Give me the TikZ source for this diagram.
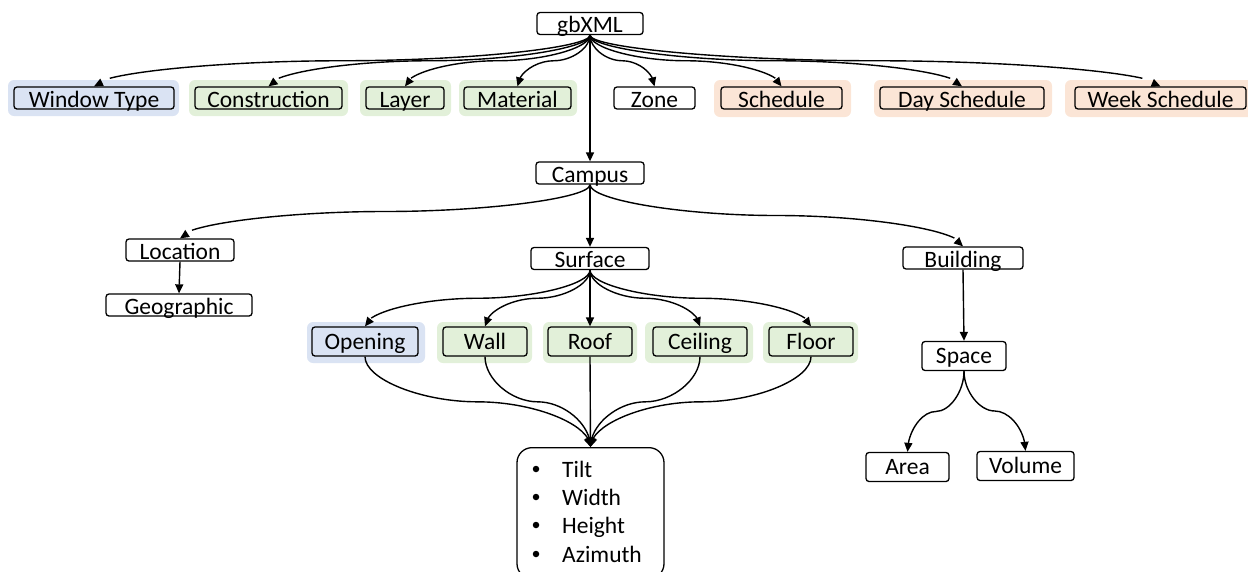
\documentclass[tikz,border=0pt]{standalone}
\usepackage{fontspec}
\setmainfont{Carlito}
\usetikzlibrary{arrows.meta,bending,calc}
\definecolor{bgblue}{RGB}{218,227,243}
\definecolor{bggreen}{RGB}{226,240,217}
\definecolor{bgorange}{RGB}{251,229,214}
\newcommand{\mycurvefrac}{0.5}
\begin{document}
\begin{tikzpicture}[x=1pt,y=-1pt,
  font=\fontsize{23.5}{28}\selectfont,
  box/.style={draw, line width=1.3pt, rounded corners=3pt, inner sep=0pt, fill=white},
  thinbox/.style={box, text height=20pt, text depth=2pt},
  tallbox/.style={box, text height=22pt, text depth=7pt},
  halo/.style={fill=#1, rounded corners=6pt, inner sep=0pt},
  dot/.style={circle, fill, inner sep=0pt, minimum size=6.5pt},
  arr/.style={line width=1.4pt, -{Triangle[length=9pt,width=8pt,flex]}},
  curvefrac/.store in=\mycurvefrac,
  % elbow-like curve: leaves downward, runs level through the middle, enters downward
  pcurve/.style={to path={
    let \p1=(\tikztostart), \p2=(\tikztotarget) in
    .. controls (\x1,{(\y1)+0.5*\mycurvefrac*((\y2)-(\y1))})
            and ({0.75*(\x1)+0.25*(\x2)},{(\y1)+\mycurvefrac*((\y2)-(\y1))})
    .. ({0.5*(\x1)+0.5*(\x2)},{(\y1)+\mycurvefrac*((\y2)-(\y1))})
    .. controls ({0.25*(\x1)+0.75*(\x2)},{(\y1)+\mycurvefrac*((\y2)-(\y1))})
            and (\x2,{(\y2)-0.5*(1-\mycurvefrac)*((\y2)-(\y1))})
    .. (\x2,\y2) \tikztonodes}}
]
\useasboundingbox (0,0) rectangle (1248,571);

% coloured group backgrounds
\node[halo=bgblue,   minimum width=171pt, minimum height=36pt] (wt-h)   at (93.5,98) {};
\node[halo=bggreen,  minimum width=159pt, minimum height=36pt] (con-h)  at (268.5,98) {};
\node[halo=bggreen,  minimum width=91pt,  minimum height=36pt] (lay-h)  at (405.5,98) {};
\node[halo=bggreen,  minimum width=118pt, minimum height=36pt] (mat-h)  at (518,98) {};
\node[halo=bgorange, minimum width=137pt, minimum height=37pt] (sch-h)  at (782.5,98.5) {};
\node[halo=bgorange, minimum width=178pt, minimum height=37pt] (day-h)  at (963,98.5) {};
\node[halo=bgorange, minimum width=200pt, minimum height=37pt] (week-h) at (1165,98.5) {};
\node[halo=bgblue,   minimum width=118pt, minimum height=41pt] (open-h) at (366,342.5) {};
\node[halo=bggreen,  minimum width=95pt,  minimum height=41pt] (wall-h) at (484.5,342.5) {};
\node[halo=bggreen,  minimum width=94pt,  minimum height=41pt] (roof-h) at (590,342.5) {};
\node[halo=bggreen,  minimum width=108pt, minimum height=41pt] (ceil-h) at (699,342.5) {};
\node[halo=bggreen,  minimum width=95pt,  minimum height=41pt] (floor-h) at (810.5,342.5) {};

% element boxes
\node[thinbox, minimum width=106pt] (gb) at (590,23.5) {gbXML};
\node[thinbox, fill=bgblue,   minimum width=160pt] (wt)   at (94,98)    {Window Type};
\node[thinbox, fill=bggreen,  minimum width=147pt] (con)  at (268.5,98) {Construction};
\node[thinbox, fill=bggreen,  minimum width=78pt]  (lay)  at (405,98)   {Layer};
\node[thinbox, fill=bggreen,  minimum width=107pt] (mat)  at (517.5,98) {Material};
\node[thinbox,                minimum width=81pt]  (zone) at (654.5,98) {Zone};
\node[thinbox, fill=bgorange, minimum width=121pt] (sch)  at (781.5,98) {Schedule};
\node[thinbox, fill=bgorange, minimum width=164pt] (day)  at (962,98)   {Day Schedule};
\node[thinbox, fill=bgorange, minimum width=171pt] (week) at (1160.5,98) {Week Schedule};

\node[thinbox, minimum width=108pt] (campus) at (590,173)   {Campus};
\node[thinbox, minimum width=108pt] (loc)    at (180,250)   {Location};
\node[thinbox, minimum width=146pt] (geo)    at (179,305)   {Geographic};
\node[thinbox, minimum width=118pt] (surf)   at (590,258.5) {Surface};
\node[thinbox, minimum width=120pt] (bld)    at (963,258)   {Building};

\node[tallbox, fill=bgblue,  minimum width=106pt] (open)  at (365,341.5) {Opening};
\node[tallbox, fill=bggreen, minimum width=84pt]  (wall)  at (485,341.5) {Wall};
\node[tallbox, fill=bggreen, minimum width=84pt]  (roof)  at (590,341.5) {Roof};
\node[tallbox, fill=bggreen, minimum width=94pt]  (ceil)  at (700,341.5) {Ceiling};
\node[tallbox, fill=bggreen, minimum width=84pt]  (floor) at (811,341.5) {Floor};

\node[tallbox, minimum width=84pt] (space) at (964,356)    {Space};
\node[tallbox, minimum width=83pt] (area)  at (907.5,467)  {Area};
\node[tallbox, minimum width=97pt] (vol)   at (1025.5,466) {Volume};

% attribute list
\node[draw, line width=1.3pt, rounded corners=15pt, minimum width=147pt,
      minimum height=131pt, inner sep=0pt, anchor=north] (attrs) at (590.5,447) {};
\node[dot] (b1) at (536,469) {};
\node[dot] (b2) at (536,497) {};
\node[dot] (b3) at (536,525) {};
\node[dot] (b4) at (536,554) {};
\node[anchor=base west, inner sep=0pt] (t1) at (562,477) {Tilt};
\node[anchor=base west, inner sep=0pt] (t2) at (562,505) {Width};
\node[anchor=base west, inner sep=0pt] (t3) at (562,533) {Height};
\node[anchor=base west, inner sep=0pt] (t4) at (562,562) {Azimuth};

% connectors from the root
\foreach \t in {wt,con,lay,mat,zone,sch,day,week}
  \draw[arr] (gb.south) to[pcurve] (\t.north);
\draw[arr] (gb.south) -- (campus.north);

% campus level
\draw[arr] (campus.south) to[pcurve] (loc.north);
\draw[arr] (campus.south) to[pcurve] (bld.north);
\draw[arr] (campus.south) -- (surf.north);
\draw[arr] (loc.south) -- (geo.north);

% surface types
\foreach \t in {open,wall,ceil,floor}
  \draw[arr] (surf.south) to[pcurve] (\t.north);
\draw[arr] (surf.south) -- (roof.north);

\foreach \t in {open,wall,ceil,floor}
  \draw[arr] (\t.south) to[pcurve] (attrs.north);
\draw[arr] (roof.south) -- (attrs.north);

% building level
\draw[arr] (bld.south) -- (space.north);
\draw[arr] (space.south) to[pcurve] (area.north);
\draw[arr] (space.south) to[pcurve] (vol.north);
\end{tikzpicture}
\end{document}
